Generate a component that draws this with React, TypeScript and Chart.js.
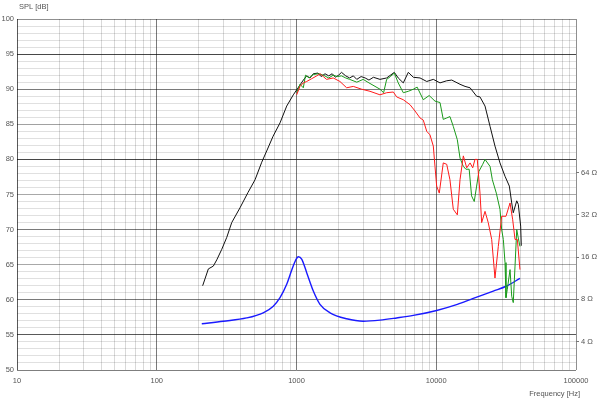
import { useEffect, useRef } from 'react';
import { Chart, registerables } from 'chart.js';

Chart.register(...registerables);

// ---- Data ----
const blackFreq = [213, 234, 254, 269, 292, 317, 344, 394, 450, 505, 564, 612, 680, 762, 851, 949, 1003, 1059, 1120, 1183, 1250, 1319, 1425, 1500, 1600, 1700, 1800, 1900, 2000, 2100, 2250, 2400, 2550, 2700, 2900, 3100, 3300, 3550, 3956, 4418, 5012, 5346, 5808, 6310, 6855, 7656, 8551, 9526, 10640, 11885, 12912, 14791, 16069, 17458, 19454, 20559, 22336, 24266, 26316, 28576, 31046, 33343, 34674, 35563, 37670, 38637, 40179, 40600];
const blackSpl = [62.0, 64.4, 64.8, 65.7, 67.2, 68.9, 71.0, 73.1, 75.3, 77.1, 79.6, 81.2, 83.3, 85.2, 87.6, 89.2, 89.9, 90.6, 91.3, 91.9, 91.6, 92.2, 92.3, 91.8, 92.2, 91.9, 92.2, 91.7, 92.0, 92.4, 91.9, 91.6, 91.9, 91.4, 91.8, 91.6, 91.3, 91.7, 91.4, 91.6, 92.4, 91.6, 90.9, 92.4, 91.7, 91.6, 91.1, 91.4, 90.9, 91.2, 91.3, 90.7, 90.4, 90.2, 89.0, 88.9, 87.6, 84.7, 81.9, 79.5, 77.6, 76.2, 73.8, 72.4, 74.1, 73.6, 70.5, 67.7];

const redFreq = [1003, 1059, 1119, 1183, 1285, 1396, 1476, 1556, 1641, 1832, 2046, 2285, 2549, 2924, 3357, 3956, 4418, 4932, 5212, 5808, 6486, 7046, 7656, 8075, 8551, 9016, 9526, 9795, 10069, 10514, 11224, 11885, 12531, 13240, 14150, 14791, 15625, 16520, 17458, 18239, 18927, 19660, 20559, 21135, 22336, 23550, 24930, 26316, 27800, 29380, 31550, 33730, 35240, 36620, 38040, 39720];
const redSpl = [89.2, 90.4, 90.9, 91.1, 91.5, 91.9, 92.2, 91.8, 91.4, 91.6, 91.1, 90.2, 90.4, 90.0, 89.7, 89.2, 89.5, 89.6, 88.9, 88.5, 87.8, 86.9, 85.9, 85.6, 84.0, 83.5, 81.9, 79.0, 76.2, 75.2, 79.5, 79.3, 77.1, 72.9, 72.1, 77.1, 80.5, 78.8, 79.5, 78.8, 80.0, 80.0, 75.2, 71.0, 72.6, 71.0, 68.6, 63.1, 67.6, 71.9, 71.9, 73.8, 71.4, 68.6, 68.6, 64.3];

const greenFreq = [1003, 1059, 1119, 1160, 1230, 1319, 1440, 1556, 1700, 1832, 1960, 2100, 2250, 2400, 2700, 3000, 3300, 3956, 4200, 4418, 4700, 5012, 5346, 5808, 6310, 6855, 7300, 8075, 8900, 9795, 10640, 11224, 11885, 12531, 13240, 14150, 14791, 15625, 16300, 17200, 17900, 18700, 19454, 20200, 21500, 22336, 24266, 25200, 26900, 28576, 29380, 30200, 31046, 31550, 32240, 33730, 34674, 35563, 36620, 37670, 38637, 39720];
const greenSpl = [89.5, 90.7, 90.2, 92.0, 91.6, 92.1, 92.2, 92.0, 91.6, 92.0, 91.8, 91.9, 91.6, 91.4, 91.0, 91.4, 90.9, 90.0, 89.5, 91.4, 91.8, 92.3, 90.9, 89.5, 89.7, 90.0, 90.3, 88.5, 89.1, 88.3, 88.1, 85.7, 85.9, 86.1, 84.7, 82.8, 80.2, 79.0, 78.6, 78.6, 74.8, 74.0, 76.2, 78.3, 79.3, 80.0, 79.0, 77.1, 75.2, 72.9, 70.0, 68.6, 65.3, 60.3, 61.5, 64.3, 60.5, 59.6, 64.8, 70.0, 68.8, 67.6];

const impFreq = [210, 299, 440, 578, 682, 762, 851, 900, 949, 1000, 1030, 1089, 1183, 1250, 1319, 1472, 1737, 2285, 3006, 3956, 5212, 6855, 10069, 14150, 18400, 25590, 31900, 39720];
const impOhm = [5.36, 5.59, 5.90, 6.42, 7.16, 8.23, 10.24, 12.0, 13.9, 15.6, 16.1, 15.5, 12.4, 10.6, 9.17, 7.37, 6.42, 5.82, 5.59, 5.69, 5.90, 6.15, 6.67, 7.37, 8.13, 9.17, 9.96, 11.3];

const freqDecades = [10, 100, 1000, 10000, 100000];
const freqSteps = [1, 2, 3, 4, 5, 6, 7, 8, 9];
const splLabels = [50, 55, 60, 65, 70, 75, 80, 85, 90, 95, 100];
const impTicks = [4, 8, 16, 32, 64];

// ---- Styles ----
const FONT = 'Liberation Sans';
const TEXT = '#555555';
const hMajorColor: Record<number, string> = {
  100: 'rgba(0,0,0,0.44)', 95: 'rgba(0,0,0,0.72)', 90: 'rgba(0,0,0,0.52)', 85: 'rgba(0,0,0,0.37)',
  80: 'rgba(0,0,0,0.72)', 75: 'rgba(0,0,0,0.34)', 70: 'rgba(0,0,0,0.52)', 65: 'rgba(0,0,0,0.34)',
  60: 'rgba(0,0,0,0.52)', 55: 'rgba(0,0,0,0.65)', 50: 'rgba(0,0,0,0.5)',
};
const hMinorColor = 'rgba(0,0,0,0.12)';
const vMinorColor = 'rgba(0,0,0,0.15)';
const vDecadeColor = 'rgba(0,0,0,0.52)';

function zip(xs: number[], ys: number[]) {
  return xs.map((x, i) => ({ x, y: ys[i] }));
}

const xTickValues: number[] = [];
freqDecades.forEach((d) => {
  if (d === 100000) { xTickValues.push(d); return; }
  freqSteps.forEach((s) => xTickValues.push(d * s));
});
const yTickValues: number[] = [];
for (let v = 50; v <= 100; v++) yTickValues.push(v);

const titlePlugin = {
  id: 'axisTitles',
  afterDraw(chart: any) {
    const { ctx, chartArea } = chart;
    ctx.save();
    ctx.font = `7.5px "${FONT}"`;
    ctx.fillStyle = TEXT;
    ctx.textBaseline = 'middle';
    ctx.textAlign = 'left';
    ctx.fillText('SPL [dB]', chartArea.left + 2, chartArea.top - 12);
    ctx.textAlign = 'right';
    ctx.fillText('Frequency [Hz]', chartArea.right + 4, chartArea.bottom + 24);
    ctx.restore();
  },
};

export default function App() {
  const ref = useRef<HTMLCanvasElement | null>(null);

  useEffect(() => {
    if (!ref.current) return;
    const chart = new Chart(ref.current, {
      type: 'line',
      data: {
        datasets: [
          {
            label: 'SPL red',
            data: zip(redFreq, redSpl),
            borderColor: '#ff1a1a',
            borderWidth: 1,
            pointRadius: 0,
            tension: 0,
            yAxisID: 'y',
          },
          {
            label: 'SPL green',
            data: zip(greenFreq, greenSpl),
            borderColor: '#1a9a1a',
            borderWidth: 1,
            pointRadius: 0,
            tension: 0,
            yAxisID: 'y',
          },
          {
            label: 'SPL black',
            data: zip(blackFreq, blackSpl),
            borderColor: '#111111',
            borderWidth: 1,
            pointRadius: 0,
            tension: 0,
            yAxisID: 'y',
          },
          {
            label: 'Impedance',
            data: zip(impFreq, impOhm),
            borderColor: '#1a1aff',
            borderWidth: 1.4,
            pointRadius: 0,
            cubicInterpolationMode: 'monotone',
            yAxisID: 'y2',
          },
        ],
      },
      options: {
        responsive: false,
        animation: false,
        devicePixelRatio: 1,
        layout: { padding: { top: 19, left: 0, right: 0, bottom: 0 } },
        plugins: { legend: { display: false }, tooltip: { enabled: false } },
        scales: {
          x: {
            type: 'logarithmic',
            position: 'bottom',
            min: 10,
            max: 100000,
            afterBuildTicks: (scale: any) => {
              scale.ticks = xTickValues.map((v) => ({ value: v }));
            },
            afterFit: (scale: any) => {
              scale.height = 31;
              scale.paddingLeft = 0;
              scale.paddingRight = 0;
            },
            border: { display: false },
            grid: {
              drawTicks: false,
              lineWidth: 1,
              color: (ctx: any) => {
                const v = ctx.tick ? ctx.tick.value : 0;
                if (v === 10) return 'rgba(0,0,0,0.65)';
                if (v === 100000) return 'rgba(0,0,0,0.44)';
                if (freqDecades.includes(v)) return vDecadeColor;
                return vMinorColor;
              },
            },
            ticks: {
              autoSkip: false,
              maxRotation: 0,
              padding: 6,
              color: TEXT,
              font: { family: FONT, size: 7.5 },
              callback: (v: any) => (freqDecades.includes(Number(v)) ? String(v) : ''),
            },
          },
          y: {
            type: 'linear',
            position: 'left',
            min: 50,
            max: 100,
            afterBuildTicks: (scale: any) => {
              scale.ticks = yTickValues.map((v) => ({ value: v }));
            },
            afterFit: (scale: any) => {
              scale.width = 17;
              scale.paddingTop = 0;
              scale.paddingBottom = 0;
            },
            border: { display: false },
            grid: {
              drawTicks: false,
              lineWidth: 1,
              color: (ctx: any) => {
                const v = ctx.tick ? ctx.tick.value : 0;
                return hMajorColor[v] || hMinorColor;
              },
            },
            ticks: {
              autoSkip: false,
              padding: 3,
              color: TEXT,
              font: { family: FONT, size: 7.5 },
              callback: (v: any) => (splLabels.includes(Number(v)) ? String(v) : ''),
            },
          },
          y2: {
            type: 'logarithmic',
            position: 'right',
            min: 2.512,
            max: 794.3,
            afterBuildTicks: (scale: any) => {
              scale.ticks = impTicks.map((v) => ({ value: v }));
            },
            afterFit: (scale: any) => {
              scale.width = 24;
              scale.paddingTop = 0;
              scale.paddingBottom = 0;
            },
            border: { display: false },
            grid: {
              drawOnChartArea: false,
              drawTicks: true,
              tickLength: 3,
              tickColor: '#777777',
            },
            ticks: {
              autoSkip: false,
              padding: 2,
              color: TEXT,
              font: { family: FONT, size: 7.5 },
              callback: (v: any) => `${v} Ω`,
            },
          },
        },
      } as any,
      plugins: [titlePlugin],
    });
    return () => chart.destroy();
  }, []);

  return (
    <div style={{ position: 'fixed', left: 0, top: 0, width: 600, height: 401, background: '#fff' }}>
      <canvas ref={ref} width={600} height={401} style={{ width: 600, height: 401, display: 'block' }} />
    </div>
  );
}
